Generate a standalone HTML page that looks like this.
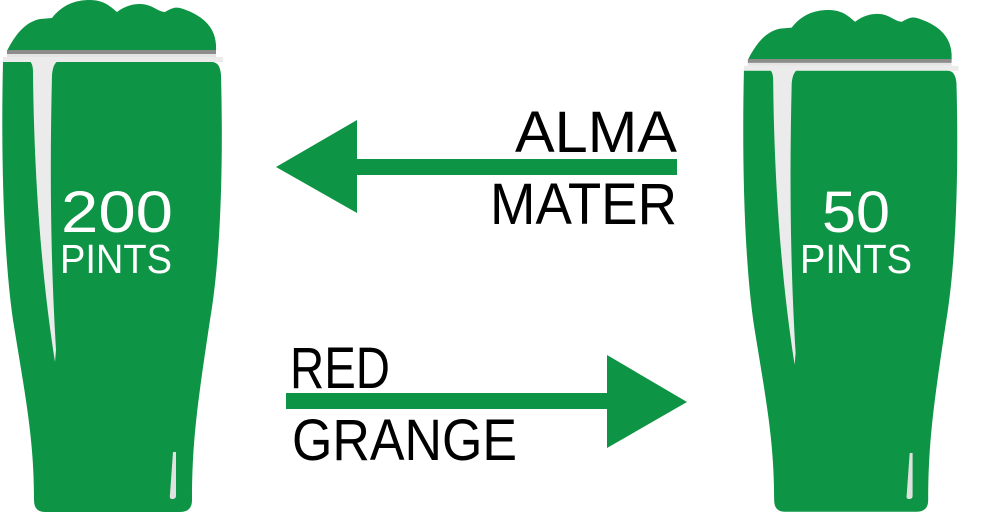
<!DOCTYPE html>
<html><head><meta charset="utf-8"><style>html,body{margin:0;padding:0;background:#fff}svg{display:block}</style></head>
<body>
<svg width="991" height="518" viewBox="0 0 991 518" xmlns="http://www.w3.org/2000/svg">
<defs>
<g id="glass">
  <path d="M7,51 C15,35 25,22 40,19 L52,18 C62,5 75,0 90,0 C105,0 112,8 117,12 C125,6 133,4 140,4 C152,4 158,12 165,12 C172,8 175,7 180,8 C200,14 215,25 216,45 L216,51 Z" fill="#0d9444"/>
  <rect x="7" y="50" width="209" height="4" fill="#8c8c8c"/>
  <rect x="7" y="54" width="209" height="3" fill="#e4e4e4"/>
  <rect x="3" y="57" width="220" height="5" fill="#ebebeb"/>
  <path d="M3,62 L212,62 Q220,62 221,75 C223,150 222,250 210,320 C198,400 192,440 192,500 Q192,512 180,512 L45,512 Q34,512 34,500 C34,440 26,400 13,320 C3,250 1,150 3,62 Z" fill="#0d9444"/>
  <path d="M28,60 L60,60 Q53,62 52,75 C50,160 50,250 56,350 L55,362 C42,280 34,180 33,72 Q33,62 28,60 Z" fill="#ebebeb"/>
  <path d="M173,452 L176,452 L176,496 Q176,499 172,499 Q169,499 170,494 Z" fill="#e0e0e0"/>
</g>
</defs>
<use href="#glass"/>
<use href="#glass" transform="translate(741,10) scale(0.975,0.98)"/>
<g fill="#fff" font-family="Liberation Sans, DejaVu Sans, sans-serif" text-anchor="middle">
  <text x="117" y="232" font-size="58" textLength="112" lengthAdjust="spacingAndGlyphs">200</text>
  <text x="116" y="273" font-size="41" textLength="112" lengthAdjust="spacingAndGlyphs">PINTS</text>
  <text x="856" y="232" font-size="58" textLength="68" lengthAdjust="spacingAndGlyphs">50</text>
  <text x="856" y="273" font-size="41" textLength="112" lengthAdjust="spacingAndGlyphs">PINTS</text>
</g>
<g fill="#0d9444">
  <polygon points="276,167 357,120 357,159 677,159 677,175 357,175 357,213"/>
  <polygon points="286,393 607,393 607,355 687,402 607,448 607,409 286,409"/>
</g>
<g fill="#000" font-family="Liberation Sans, DejaVu Sans, sans-serif" font-size="58">
  <text x="515" y="152" textLength="162" lengthAdjust="spacingAndGlyphs">ALMA</text>
  <text x="490" y="224" textLength="187" lengthAdjust="spacingAndGlyphs">MATER</text>
  <text x="290" y="388" textLength="100" lengthAdjust="spacingAndGlyphs">RED</text>
  <text x="292" y="460" textLength="225" lengthAdjust="spacingAndGlyphs">GRANGE</text>
</g>
</svg>
</body></html>
